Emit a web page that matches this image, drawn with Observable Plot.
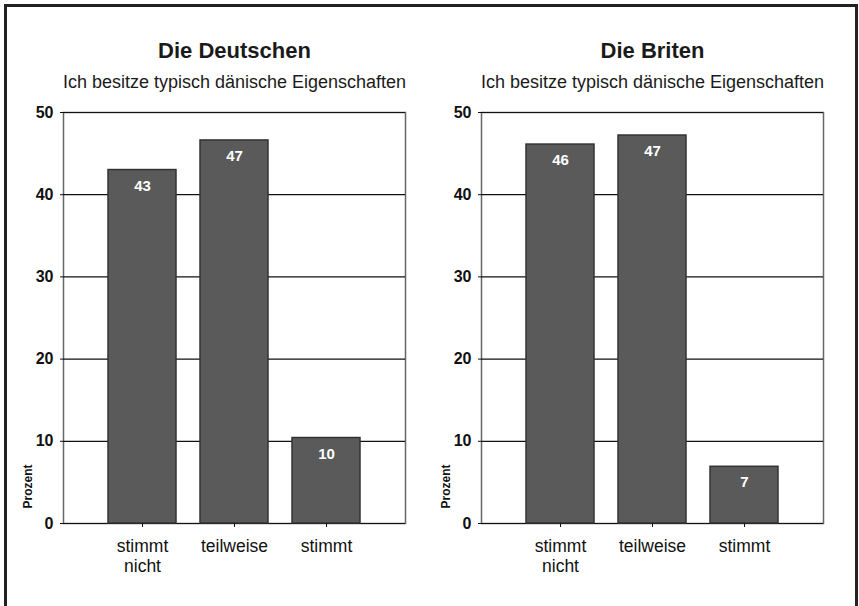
<!DOCTYPE html>
<html>
<head>
<meta charset="utf-8">
<script src="https://cdn.jsdelivr.net/npm/d3@7"></script>
<script src="https://cdn.jsdelivr.net/npm/@observablehq/plot@0.6"></script>
<style>
  html, body { margin: 0; padding: 0; background: #fff; }
  body { width: 859px; height: 606px; overflow: hidden; position: relative; }
  #frame { position: absolute; left: 4px; top: 4px; width: 848px; height: 700px; border: 3px solid #222; }
  .panel { position: absolute; top: 0; }
  .panel svg { overflow: visible; }
</style>
</head>
<body>
<div id="frame"></div>
<div id="left" class="panel" style="left:0px"></div>
<div id="right" class="panel" style="left:418px"></div>
<script>
const categories = ["stimmt nicht", "teilweise", "stimmt"];
const deutschen = [43, 46.6, 10.4];
const deutschenLabels = ["43", "47", "10"];
const briten = [46.1, 47.2, 6.9];
const britenLabels = ["46", "47", "7"];
const yTicks = [0, 10, 20, 30, 40, 50];
const panelTitles = ["Die Deutschen", "Die Briten"];
const subtitle = "Ich besitze typisch dänische Eigenschaften";
const yLabel = "Prozent";

function chart(values, labels, title) {
  const data = categories.map((c, i) => ({cat: c, value: values[i], label: labels[i]}));
  return Plot.plot({
    width: 430,
    height: 606,
    marginLeft: 63,
    marginRight: 25,
    marginTop: 112,
    marginBottom: 83,
    style: {fontFamily: "'Liberation Sans', Arial, sans-serif", background: "transparent", color: "#111", overflow: "visible"},
    x: {domain: categories, paddingInner: 0.258, paddingOuter: 0.47, label: null},
    y: {domain: [0, 50], label: null},
    marks: [
      Plot.frame({stroke: "#666", strokeWidth: 1.5}),
      Plot.ruleY(yTicks, {stroke: "#111", strokeWidth: 1.2}),
      Plot.barY(data, {x: "cat", y: "value", fill: "#5a5a5a", stroke: "#333", strokeWidth: 1.5}),
      Plot.text(data, {x: "cat", y: "value", text: "label", lineAnchor: "top", dy: 10, fill: "white", fontWeight: "bold", fontSize: 15}),
      Plot.axisY({ticks: yTicks, tickSize: 3, tickPadding: 7, fontSize: 16, fontWeight: "bold", label: null}),
      Plot.axisX({tickSize: 4, tickPadding: 10, fontSize: 17.5, lineHeight: 1.15, label: null, tickFormat: d => d.split(" ").join("\n")}),
      Plot.text([title], {text: d => d, frameAnchor: "top", dy: -55, lineAnchor: "bottom", fontSize: 22, fontWeight: "bold", fill: "#1a1a1a"}),
      Plot.text([subtitle], {text: d => d, frameAnchor: "top", dy: -25, lineAnchor: "bottom", fontSize: 18, fill: "#1a1a1a"}),
      Plot.text([yLabel], {text: d => d, frameAnchor: "bottom-left", rotate: -90, textAnchor: "start", dx: -32, dy: -15, fontSize: 12, fontWeight: "bold"})
    ]
  });
}

document.getElementById("left").appendChild(chart(deutschen, deutschenLabels, panelTitles[0]));
document.getElementById("right").appendChild(chart(briten, britenLabels, panelTitles[1]));
</script>
</body>
</html>
